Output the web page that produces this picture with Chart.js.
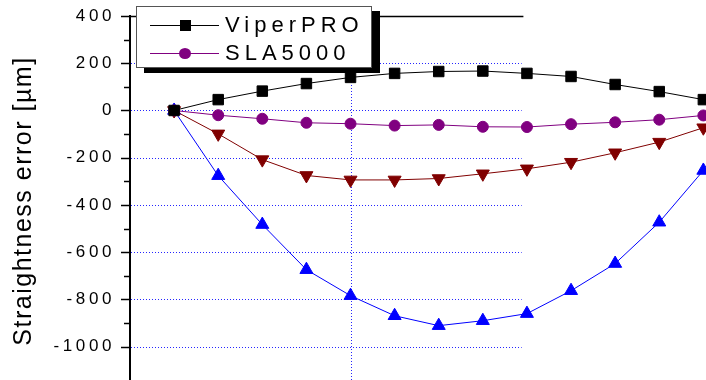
<!DOCTYPE html>
<html>
<head>
<meta charset="utf-8">
<script src="https://cdn.jsdelivr.net/npm/chart.js@4.4.1/dist/chart.umd.min.js"></script>
<style>
    html, body { margin: 0; padding: 0; background: #fff; overflow: hidden; }
    #cadre { position: relative; width: 706px; height: 380px; }
    canvas { display: block; }
</style>
</head>
<body>
<div id="cadre"><canvas id="graphique-rectitude"></canvas></div>
<script>
// positions de mesure (pas 1) et erreurs en µm
const positions = [0, 1, 2, 3, 4, 5, 6, 7, 8, 9, 10, 11, 12];
const viperPro = [0, 46, 82, 114, 140, 157, 165, 167, 157, 144, 110, 80, 46];
const sla5000 = [0, -20, -35, -52, -56, -64, -61, -69, -70, -58, -50, -39, -21];
const serieRouge = [0, -99, -208, -275, -294, -294, -288, -268, -247, -219, -179, -134, -73];
const serieBleue = [0, -276, -483, -674, -784, -869, -911, -890, -860, -763, -648, -473, -254];
const legendeLabels = ["ViperPRO", "SLA5000"];
const grilleY = [200, 0, -200, -400, -600, -800, -1000];
const grilleX = [4];
const titreY = "Straightness error [µm]";

const police = '"Liberation Sans", Arial, sans-serif';

function serie(valeurs, couleur, forme, rotation, rayon) {
    return {
        data: valeurs.map((v, i) => ({ x: positions[i], y: v })),
        borderColor: couleur,
        backgroundColor: couleur,
        borderWidth: 1,
        pointStyle: forme,
        pointRotation: rotation,
        pointRadius: rayon,
        pointBorderWidth: 1,
        tension: 0
    };
}

const decor = {
    id: "decor",
    beforeDraw(chart) {
        chart.ctx.letterSpacing = "3.6px";
    },
    beforeDatasetsDraw(chart) {
        const { ctx, chartArea, scales: { x, y } } = chart;
        ctx.save();
        ctx.letterSpacing = "0px";
        // grille pointillée bleue
        ctx.strokeStyle = "rgba(0, 0, 255, 0.85)";
        ctx.lineWidth = 1;
        ctx.setLineDash([1, 2]);
        const finGrille = x.getPixelForValue(7.88);
        for (let v of grilleY) {
            const py = Math.round(y.getPixelForValue(v)) + 0.5;
            ctx.beginPath();
            ctx.moveTo(chartArea.left + 1, py);
            ctx.lineTo(finGrille, py);
            ctx.stroke();
        }
        for (let v of grilleX) {
            const px = Math.round(x.getPixelForValue(v)) + 0.5;
            ctx.beginPath();
            ctx.moveTo(px, chartArea.top);
            ctx.lineTo(px, chartArea.bottom);
            ctx.stroke();
        }
        ctx.setLineDash([]);
        // trait du haut
        ctx.strokeStyle = "#000";
        ctx.lineWidth = 1.5;
        ctx.beginPath();
        ctx.moveTo(chartArea.left, chartArea.top + 0.5);
        ctx.lineTo(x.getPixelForValue(7.92), chartArea.top + 0.5);
        ctx.stroke();
        // graduations majeures / mineures
        for (let t of y.ticks) {
            if (t.value % 100 !== 0) continue;
            const long = t.value % 200 === 0 ? 9 : 6;
            const py = Math.round(y.getPixelForValue(t.value)) + 0.5;
            ctx.beginPath();
            ctx.moveTo(chartArea.left - long, py);
            ctx.lineTo(chartArea.left, py);
            ctx.stroke();
        }
        ctx.restore();
    },
    afterDraw(chart) {
        const { ctx } = chart;
        ctx.save();
        // titre de l'axe Y
        ctx.letterSpacing = "1.5px";
        ctx.font = "25px " + police;
        ctx.fillStyle = "#000";
        ctx.translate(31, 201);
        ctx.rotate(-Math.PI / 2);
        ctx.textAlign = "center";
        ctx.textBaseline = "alphabetic";
        ctx.fillText(titreY, 0, 0);
        ctx.restore();

        // légende
        ctx.save();
        ctx.letterSpacing = "0px";
        ctx.fillStyle = "#000";
        ctx.fillRect(144, 11, 236, 62);
        ctx.fillStyle = "#fff";
        ctx.fillRect(136, 6, 236, 62);
        ctx.strokeStyle = "#555";
        ctx.lineWidth = 1;
        ctx.strokeRect(136.5, 6.5, 235, 61);
        const lignes = [25, 53];
        for (let i = 0; i < legendeLabels.length; i++) {
            const ds = chart.data.datasets[i];
            const ly = lignes[i];
            ctx.strokeStyle = ds.borderColor;
            ctx.fillStyle = ds.backgroundColor;
            ctx.beginPath();
            ctx.moveTo(150, ly + 0.5);
            ctx.lineTo(219, ly + 0.5);
            ctx.stroke();
            if (ds.pointStyle === "rect") {
                ctx.fillRect(180, ly - 5, 11, 11);
            } else {
                ctx.beginPath();
                ctx.ellipse(185, ly + 0.5, 6, 5.5, 0, 0, Math.PI * 2);
                ctx.fill();
            }
            ctx.fillStyle = "#000";
            ctx.letterSpacing = "5px";
            ctx.font = "22px " + police;
            ctx.textBaseline = "middle";
            ctx.fillText(legendeLabels[i], 225, ly + 1);
            ctx.letterSpacing = "0px";
        }
        ctx.restore();
        ctx.letterSpacing = "0px";
    }
};

const config = {
    type: "line",
    data: {
        datasets: [
            serie(viperPro, "#000000", "rect", 0, 7.4),
            serie(sla5000, "#800080", "circle", 0, 5.5),
            serie(serieRouge, "#800000", "triangle", 180, 7.5),
            serie(serieBleue, "#0000ff", "triangle", 0, 7.5)
        ]
    },
    options: {
        responsive: true,
        maintainAspectRatio: false,
        animation: false,
        events: [],
        layout: {
            autoPadding: false,
            padding: { top: 16, right: 0, bottom: 0, left: 0 }
        },
        plugins: {
            legend: { display: false },
            title: { display: false },
            tooltip: { enabled: false }
        },
        scales: {
            x: {
                type: "linear",
                min: -1,
                max: 12.06,
                display: false
            },
            y: {
                type: "linear",
                min: -1141,
                max: 400,
                afterFit(scale) {
                    scale.width = 130;
                    scale.paddingTop = 0;
                    scale.paddingBottom = 0;
                },
                grid: { display: false, drawTicks: true, tickLength: 9 },
                border: { display: true, color: "#000", width: 2 },
                ticks: {
                    stepSize: 100,
                    autoSkip: false,
                    padding: 6,
                    color: "#000",
                    font: { family: police, size: 17 },
                    callback: (v) => (v % 200 === 0 ? v : "")
                }
            }
        }
    },
    plugins: [decor]
};

const graphique = new Chart(document.querySelector("#graphique-rectitude"), config);
</script>
</body>
</html>
